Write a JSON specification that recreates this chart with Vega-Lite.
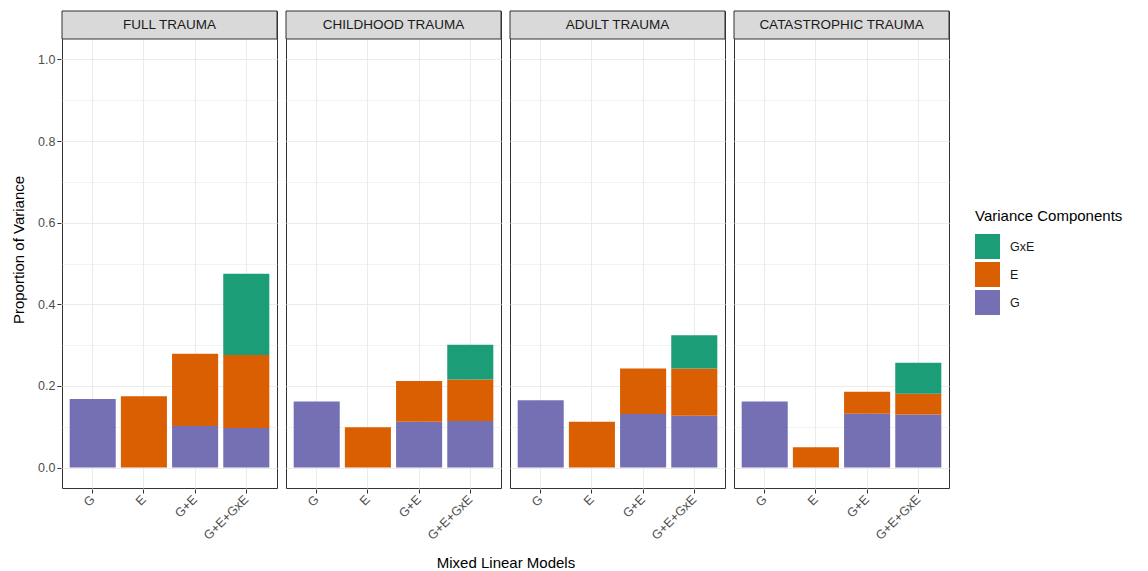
{
  "$schema": "https://vega.github.io/schema/vega-lite/v6.json",
  "background": "white",
  "padding": {"left": 11, "top": 10, "right": 2, "bottom": 2},
  "config": {
    "font": "Liberation Sans",
    "view": {"stroke": "#333333", "strokeWidth": 1},
    "axis": {
      "domain": false,
      "gridColor": "#ebebeb",
      "tickColor": "#333333",
      "tickSize": 4,
      "labelColor": "#4d4d4d",
      "labelFontSize": 12.5,
      "titleFontSize": 15,
      "titleFontWeight": "normal",
      "titleColor": "#000000"
    }
  },
  "datasets": {
    "componentOrder": [
      {"component": "G", "stack_rank": 1},
      {"component": "E", "stack_rank": 2},
      {"component": "GxE", "stack_rank": 3}
    ]
  },
  "data": {
    "values": [
      {"trauma": "FULL TRAUMA", "model": "G", "component": "G", "value": 0.168},
      {"trauma": "FULL TRAUMA", "model": "E", "component": "E", "value": 0.175},
      {"trauma": "FULL TRAUMA", "model": "G+E", "component": "G", "value": 0.102},
      {"trauma": "FULL TRAUMA", "model": "G+E", "component": "E", "value": 0.177},
      {"trauma": "FULL TRAUMA", "model": "G+E+GxE", "component": "G", "value": 0.097},
      {"trauma": "FULL TRAUMA", "model": "G+E+GxE", "component": "E", "value": 0.179},
      {"trauma": "FULL TRAUMA", "model": "G+E+GxE", "component": "GxE", "value": 0.199},
      {"trauma": "CHILDHOOD TRAUMA", "model": "G", "component": "G", "value": 0.162},
      {"trauma": "CHILDHOOD TRAUMA", "model": "E", "component": "E", "value": 0.099},
      {"trauma": "CHILDHOOD TRAUMA", "model": "G+E", "component": "G", "value": 0.112},
      {"trauma": "CHILDHOOD TRAUMA", "model": "G+E", "component": "E", "value": 0.100},
      {"trauma": "CHILDHOOD TRAUMA", "model": "G+E+GxE", "component": "G", "value": 0.114},
      {"trauma": "CHILDHOOD TRAUMA", "model": "G+E+GxE", "component": "E", "value": 0.102},
      {"trauma": "CHILDHOOD TRAUMA", "model": "G+E+GxE", "component": "GxE", "value": 0.085},
      {"trauma": "ADULT TRAUMA", "model": "G", "component": "G", "value": 0.165},
      {"trauma": "ADULT TRAUMA", "model": "E", "component": "E", "value": 0.112},
      {"trauma": "ADULT TRAUMA", "model": "G+E", "component": "G", "value": 0.131},
      {"trauma": "ADULT TRAUMA", "model": "G+E", "component": "E", "value": 0.112},
      {"trauma": "ADULT TRAUMA", "model": "G+E+GxE", "component": "G", "value": 0.127},
      {"trauma": "ADULT TRAUMA", "model": "G+E+GxE", "component": "E", "value": 0.116},
      {"trauma": "ADULT TRAUMA", "model": "G+E+GxE", "component": "GxE", "value": 0.081},
      {"trauma": "CATASTROPHIC TRAUMA", "model": "G", "component": "G", "value": 0.162},
      {"trauma": "CATASTROPHIC TRAUMA", "model": "E", "component": "E", "value": 0.050},
      {"trauma": "CATASTROPHIC TRAUMA", "model": "G+E", "component": "G", "value": 0.132},
      {"trauma": "CATASTROPHIC TRAUMA", "model": "G+E", "component": "E", "value": 0.054},
      {"trauma": "CATASTROPHIC TRAUMA", "model": "G+E+GxE", "component": "G", "value": 0.130},
      {"trauma": "CATASTROPHIC TRAUMA", "model": "G+E+GxE", "component": "E", "value": 0.051},
      {"trauma": "CATASTROPHIC TRAUMA", "model": "G+E+GxE", "component": "GxE", "value": 0.076}
    ]
  },
  "transform": [
    {"lookup": "component", "from": {"data": {"name": "componentOrder"}, "key": "component", "fields": ["stack_rank"]}}
  ],
  "spacing": 7,
  "facet": {
    "column": {
      "field": "trauma",
      "type": "nominal",
      "sort": ["FULL TRAUMA", "CHILDHOOD TRAUMA", "ADULT TRAUMA", "CATASTROPHIC TRAUMA"],
      "header": {
        "labels": false,
        "title": "Mixed Linear Models",
        "titleOrient": "bottom",
        "titleFontSize": 15,
        "titleFontWeight": "normal",
        "titleColor": "#000000",
        "titlePadding": 4
      }
    }
  },
  "spec": {
    "width": 215,
    "height": 477,
    "layer": [
      {
        "mark": {"type": "bar"},
        "encoding": {
          "x": {
            "field": "model",
            "type": "nominal",
            "sort": ["G", "E", "G+E", "G+E+GxE"],
            "scale": {"paddingInner": 0.1, "paddingOuter": 0.15},
            "axis": {
              "title": null,
              "bandPosition": 0.5,
              "labelAngle": -45,
              "labelAlign": "right",
              "labelBaseline": "middle",
              "labelPadding": 4,
              "grid": true
            }
          },
          "y": {
            "field": "value",
            "type": "quantitative",
            "stack": "zero",
            "scale": {"domain": [-0.05, 1.1186], "nice": false, "zero": false},
            "axis": {
              "title": "Proportion of Variance",
              "titlePadding": 11,
              "values": [0, 0.1, 0.2, 0.3, 0.4, 0.5, 0.6, 0.7, 0.8, 0.9, 1.0],
              "labelExpr": "round(datum.value*10) % 2 == 1 ? '' : format(datum.value, '.1f')",
              "tickSize": {"condition": {"test": "round(datum.value*10) % 2 == 1", "value": 0}, "value": 4},
              "gridWidth": {"condition": {"test": "round(datum.value*10) % 2 == 1", "value": 0.6}, "value": 1.1},
              "grid": true
            }
          },
          "order": {"field": "stack_rank", "type": "quantitative", "sort": "ascending"},
          "color": {
            "field": "component",
            "type": "nominal",
            "sort": ["GxE", "E", "G"],
            "scale": {"domain": ["GxE", "E", "G"], "range": ["#1b9e77", "#d95f02", "#7570b3"]},
            "legend": {
              "title": "Variance Components",
              "orient": "none",
              "legendX": 913,
              "legendY": 198,
              "titleFontSize": 15,
              "titleFontWeight": "normal",
              "titleColor": "#000000",
              "titlePadding": 10,
              "labelFontSize": 12.5,
              "labelColor": "#1a1a1a",
              "labelOffset": 10,
              "symbolType": "square",
              "symbolSize": 625,
              "symbolStrokeWidth": 0,
              "rowPadding": 3
            }
          }
        }
      },
      {
        "transform": [{"filter": "datum.model == 'G' && datum.component == 'G'"}],
        "mark": {"type": "rect", "fill": "#d9d9d9", "stroke": "#333333", "strokeWidth": 1},
        "encoding": {
          "y": {"datum": 1.05},
          "y2": {"datum": 1.1186}
        }
      },
      {
        "transform": [{"filter": "datum.model == 'G' && datum.component == 'G'"}],
        "mark": {"type": "text", "fontSize": 13.5, "color": "#1a1a1a", "baseline": "middle"},
        "encoding": {
          "y": {"datum": 1.0843},
          "text": {"field": "trauma"}
        }
      }
    ]
  }
}
